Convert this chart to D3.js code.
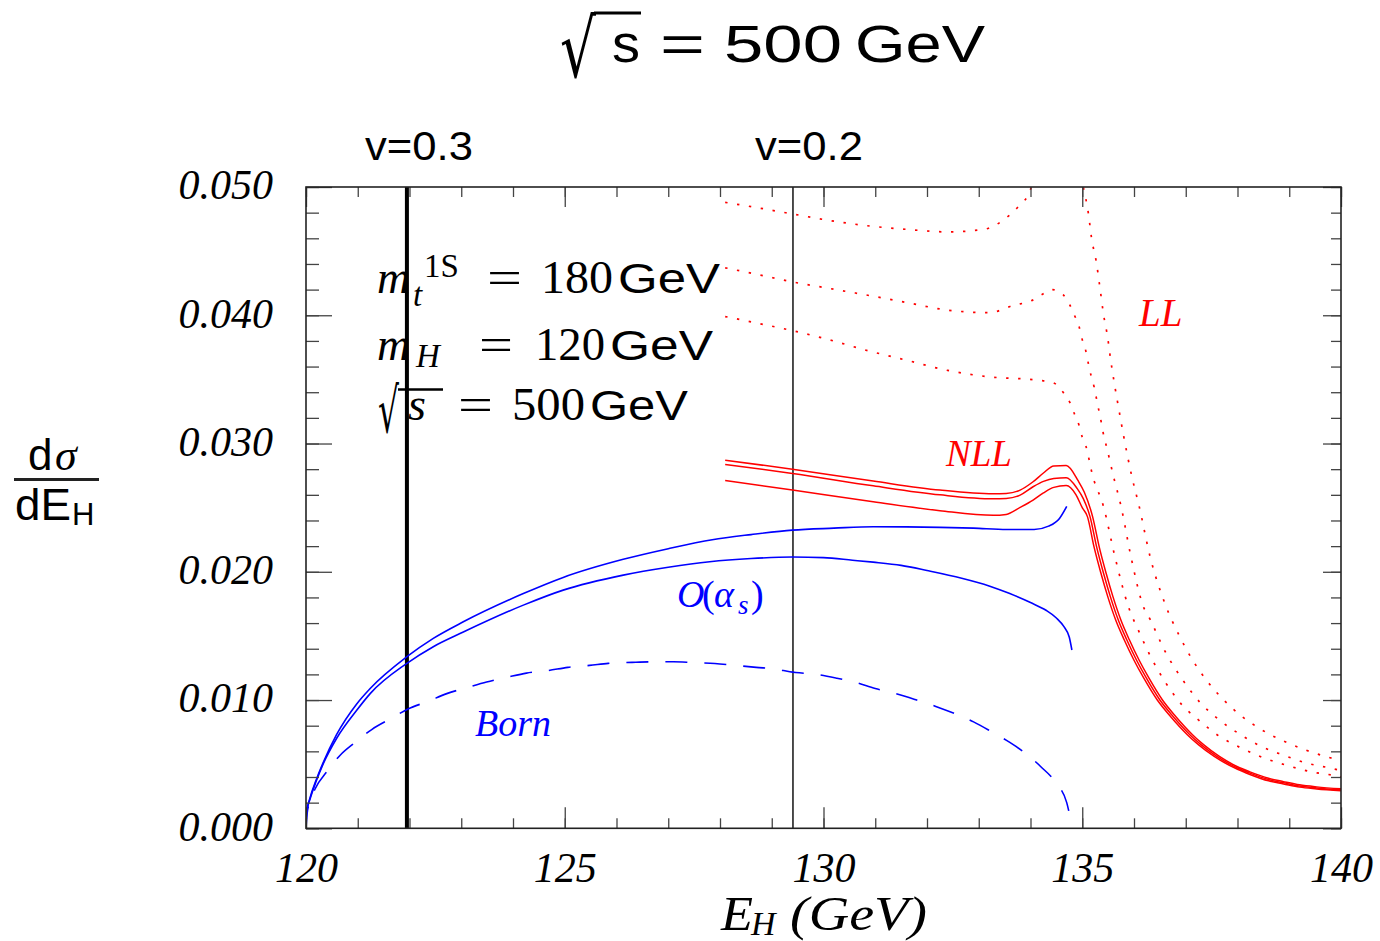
<!DOCTYPE html>
<html><head><meta charset="utf-8">
<script src="https://cdn.jsdelivr.net/npm/d3@7"></script>
<style>body{margin:0;background:#fff}svg{display:block}</style>
</head><body>
<svg id="c" width="1380" height="941"></svg>
<script>
// ---------------- data ----------------
const xTickLabels = [120, 125, 130, 135, 140];
const yTickLabels = [0.000, 0.010, 0.020, 0.030, 0.040, 0.050];

const vLineLabels = ["v=0.3", "v=0.2"];
const vLineE = [121.95, 129.41];

const bornE = [120.00,120.03,120.18,120.40,120.66,120.95,121.27,121.66,121.97,122.36,122.72,123.14,123.49,123.91,124.26,124.68,125.06,125.48,125.84,126.30,126.68,127.10,127.48,127.90,128.30,128.70,129.10,129.35,129.86,130.26,130.60,131.00,131.40,131.80,132.17,132.56,132.90,133.26,133.60,133.95,134.20,134.50,134.70,134.80];
const born  = [0.0000,0.0014,0.0031,0.0044,0.0057,0.0067,0.0077,0.0086,0.0093,0.0099,0.0105,0.0110,0.0114,0.0118,0.0121,0.0123,0.01255,0.0127,0.01286,0.01294,0.01298,0.01298,0.01292,0.01285,0.0127,0.01255,0.0124,0.0122,0.0120,0.0117,0.0114,0.0109,0.0105,0.0100,0.0095,0.0089,0.0083,0.0075,0.0067,0.0057,0.0048,0.0035,0.0020,0.0002];

const oasUpE = [120.00,120.01,120.08,120.20,120.33,120.59,120.98,121.24,121.95,122.46,123.04,124.20,124.97,126.13,127.00,127.85,128.60,129.40,130.20,130.96,131.60,132.25,132.90,133.54,134.07,134.35,134.56,134.70];
const oasUp  = [0,0.0012,0.0024,0.0038,0.0051,0.0073,0.0097,0.0109,0.01338,0.01481,0.0161,0.0183,0.01956,0.02097,0.0218,0.0225,0.0229,0.02325,0.0234,0.02351,0.0235,0.02346,0.0234,0.0233,0.0233,0.02356,0.02416,0.0251];

const oasLoE = [120.00,120.01,120.08,120.20,120.33,120.59,120.98,121.24,121.95,122.46,123.04,124.20,124.97,126.13,127.00,127.80,128.60,129.40,130.00,130.56,130.96,131.50,132.00,132.67,133.20,133.60,134.00,134.30,134.50,134.65,134.75,134.80];
const oasLo  = [0,0.0012,0.0023,0.0037,0.0050,0.0070,0.0092,0.0105,0.01286,0.01416,0.0153,0.0174,0.01857,0.01974,0.02035,0.02078,0.02103,0.02115,0.0211,0.0209,0.02075,0.0205,0.0201,0.0195,0.0189,0.0183,0.0176,0.0170,0.0164,0.0157,0.0149,0.0139];

const nllTopE = [128.10,129.40,130.96,132.25,133.28,133.53,133.80,134.05,134.25,134.45,134.69,134.92,135.04,135.20,135.33,135.46,135.59,135.75,135.91,136.10,136.29,136.55,136.81,137.13,137.35,137.65,138.00,138.24,138.60,138.89,139.20,139.53,140.00];
const nllTop  = [0.02870,0.02800,0.02707,0.02637,0.02608,0.02611,0.02637,0.02702,0.02770,0.02825,0.02828,0.02710,0.02620,0.02430,0.02190,0.01990,0.01810,0.01620,0.01470,0.01310,0.01170,0.01000,0.00870,0.00730,0.00650,0.00560,0.00480,0.00440,0.00390,0.00364,0.00339,0.00323,0.00308];

const nllMidE = [128.10,129.40,130.96,132.25,133.28,133.53,133.80,134.05,134.25,134.45,134.69,134.90,135.02,135.15,135.28,135.41,135.54,135.70,135.86,136.05,136.24,136.50,136.76,137.08,137.30,137.60,138.00,138.24,138.60,138.89,139.20,139.53,140.00];
const nllMid  = [0.02837,0.02767,0.02670,0.02600,0.02569,0.02572,0.02598,0.02663,0.02705,0.02728,0.02733,0.02650,0.02570,0.02430,0.02190,0.01990,0.01810,0.01620,0.01470,0.01310,0.01170,0.01000,0.00870,0.00730,0.00650,0.00560,0.00470,0.00430,0.00380,0.00355,0.00330,0.00315,0.00300];

const nllBotE = [128.10,129.40,130.96,132.25,133.28,133.53,133.80,134.05,134.25,134.45,134.69,134.88,135.00,135.10,135.23,135.36,135.49,135.65,135.81,136.00,136.19,136.45,136.71,137.03,137.25,137.55,138.00,138.24,138.60,138.89,139.20,139.53,140.00];
const nllBot  = [0.02712,0.02637,0.02546,0.02476,0.02440,0.02447,0.02502,0.02559,0.02615,0.02658,0.02672,0.02600,0.02500,0.02430,0.02190,0.01990,0.01810,0.01620,0.01470,0.01310,0.01170,0.01000,0.00870,0.00730,0.00650,0.00560,0.00460,0.00420,0.00370,0.00346,0.00321,0.00307,0.00292];

const llTopE = [128.10,128.70,129.40,130.10,130.80,131.60,132.40,133.10,133.50,133.77,133.99,134.20,134.50,134.80,135.02,135.12,135.18,135.27,135.34,135.41,135.49,135.55,135.62,135.71,135.79,135.96,136.10,136.31,136.60,136.89,137.12,137.39,137.71,138.06,138.46,138.89,139.32,139.79,140.00];
const llTop  = [0.0488,0.0484,0.0479,0.0474,0.0470,0.0467,0.0465,0.0467,0.0475,0.0485,0.0497,0.0530,0.0560,0.0535,0.0500,0.0479,0.0460,0.0442,0.0422,0.0401,0.0383,0.0365,0.0347,0.0326,0.0308,0.0274,0.0251,0.0212,0.0175,0.0149,0.0132,0.0116,0.0101,0.0088,0.0077,0.0068,0.0061,0.0055,0.0053];

const llMidE = [128.10,128.70,129.40,130.10,130.80,131.60,132.40,133.20,133.69,134.00,134.21,134.42,134.63,134.76,134.86,134.94,135.00,135.07,135.12,135.17,135.23,135.28,135.33,135.38,135.42,135.46,135.60,135.75,135.94,136.18,136.31,136.60,136.97,137.28,137.63,138.02,138.45,138.89,139.32,139.79,140.00];
const llMid  = [0.0437,0.0432,0.0426,0.0421,0.0416,0.0410,0.0404,0.0402,0.0408,0.0411,0.0416,0.0420,0.0416,0.0408,0.0399,0.0391,0.0381,0.0372,0.0362,0.0353,0.0344,0.0334,0.0324,0.0314,0.0305,0.0299,0.0275,0.0251,0.0212,0.0173,0.0163,0.0138,0.0114,0.0098,0.0085,0.0074,0.0064,0.0057,0.0051,0.0047,0.0045];

const llBotE = [128.10,128.70,129.40,130.10,130.80,131.60,132.40,133.20,133.99,134.23,134.46,134.63,134.76,134.85,134.94,135.00,135.07,135.20,135.41,135.63,135.89,136.10,136.32,136.62,136.91,137.26,137.64,138.05,138.50,138.96,139.43,139.89,140.00];
const llBot  = [0.0399,0.0394,0.0388,0.0381,0.0373,0.0365,0.0357,0.0352,0.0350,0.0349,0.0347,0.0340,0.0332,0.0323,0.0314,0.0305,0.0298,0.0275,0.0251,0.0212,0.0173,0.0153,0.0134,0.0113,0.0097,0.0084,0.0072,0.0063,0.0055,0.0049,0.0044,0.0041,0.0040];

// ---------------- drawing ----------------
const svg = d3.select("#c");
const X0 = 306, X1 = 1341, Y0 = 828.3, Y1 = 187;
const x = d3.scaleLinear().domain([120, 140]).range([X0, X1]);
const y = d3.scaleLinear().domain([0, 0.05]).range([Y0, Y1]);
const RED = "#ff0000", BLUE = "#0000ff";
const SERIF = "'Liberation Serif','Times New Roman',serif";
const SANS = "'Liberation Sans',Arial,Helvetica,sans-serif";

svg.append("defs").append("clipPath").attr("id", "clip")
  .append("rect").attr("x", X0).attr("y", Y1).attr("width", X1 - X0).attr("height", Y0 - Y1);

const zip = (a, b) => a.map((e, i) => [e, b[i]]);
const smooth = d3.line().x(d => x(d[0])).y(d => y(d[1])).curve(d3.curveMonotoneX);

const plot = svg.append("g").attr("clip-path", "url(#clip)");

// vertical velocity lines
plot.selectAll("line.vl").data(vLineE).join("line")
  .attr("x1", d => x(d)).attr("x2", d => x(d))
  .attr("y1", y(0.05)).attr("y2", y(0))
  .attr("stroke", "#000").attr("stroke-width", (d, i) => i === 0 ? 4 : 1.4);

// LL dotted
[[llTopE, llTop], [llMidE, llMid], [llBotE, llBot]].forEach(([e, v]) => {
  plot.append("path").attr("d", smooth(zip(e, v))).attr("fill", "none")
    .attr("stroke", RED).attr("stroke-width", 1.7).attr("stroke-dasharray", "2.4,9.6");
});
// NLL solid
[[nllTopE, nllTop], [nllMidE, nllMid], [nllBotE, nllBot]].forEach(([e, v]) => {
  plot.append("path").attr("d", smooth(zip(e, v))).attr("fill", "none")
    .attr("stroke", RED).attr("stroke-width", 1.5);
});
// O(alpha_s)
[[oasUpE, oasUp], [oasLoE, oasLo]].forEach(([e, v]) => {
  plot.append("path").attr("d", smooth(zip(e, v))).attr("fill", "none")
    .attr("stroke", BLUE).attr("stroke-width", 1.6);
});
// Born dashed
plot.append("path").attr("d", smooth(zip(bornE, born))).attr("fill", "none")
  .attr("stroke", BLUE).attr("stroke-width", 1.6).attr("stroke-dasharray", "22,17");

// ---------------- axes ----------------
const xMinor = d3.range(120, 140.01, 1);
const yMinor = d3.range(0, 0.0501, 0.002);
const tickCol = "#444";
function styleAxis(g) {
  g.select(".domain").remove();
  g.selectAll(".tick line").attr("stroke", tickCol).attr("stroke-width", 1.3);
}
svg.append("g").attr("transform", `translate(0,${Y0})`)
  .call(d3.axisBottom(x).tickValues(xMinor).tickSize(-10).tickFormat(""))
  .call(styleAxis);
svg.append("g").attr("transform", `translate(0,${Y0})`)
  .call(d3.axisBottom(x).tickValues(xTickLabels).tickSize(-21).tickPadding(24).tickFormat(d3.format("d")))
  .call(styleAxis)
  .call(g => g.selectAll("text").attr("font-family", SERIF).attr("font-style", "italic")
    .attr("font-size", 42).attr("fill", "#000"));
svg.append("g").attr("transform", `translate(0,${Y1})`)
  .call(d3.axisTop(x).tickValues(xMinor).tickSize(-10).tickFormat(""))
  .call(styleAxis);
svg.append("g").attr("transform", `translate(0,${Y1})`)
  .call(d3.axisTop(x).tickValues(xTickLabels).tickSize(-20).tickFormat(""))
  .call(styleAxis);
svg.append("g").attr("transform", `translate(${X0},0)`)
  .call(d3.axisLeft(y).tickValues(yMinor).tickSize(-13).tickFormat(""))
  .call(styleAxis);
svg.append("g").attr("transform", `translate(${X0},0)`)
  .call(d3.axisLeft(y).tickValues(yTickLabels).tickSize(-26).tickPadding(33).tickFormat(d3.format(".3f")))
  .call(styleAxis)
  .call(g => g.selectAll("text").attr("font-family", SERIF).attr("font-style", "italic")
    .attr("font-size", 42).attr("fill", "#000").attr("dy", "0.28em"));
svg.append("g").attr("transform", `translate(${X1},0)`)
  .call(d3.axisRight(y).tickValues(yMinor).tickSize(-10).tickFormat(""))
  .call(styleAxis);
svg.append("g").attr("transform", `translate(${X1},0)`)
  .call(d3.axisRight(y).tickValues(yTickLabels).tickSize(-18).tickFormat(""))
  .call(styleAxis);

// frame
svg.append("rect").attr("x", X0).attr("y", Y1).attr("width", X1 - X0).attr("height", Y0 - Y1)
  .attr("fill", "none").attr("stroke", "#222").attr("stroke-width", 1.6);

// ---------------- texts ----------------
function t(str, xx, yy, o = {}) {
  const el = svg.append("text").attr("x", xx).attr("y", yy).text(str)
    .attr("font-family", o.family || SERIF).attr("font-size", o.size || 40)
    .attr("fill", o.fill || "#000");
  if (o.italic) el.attr("font-style", "italic");
  if (o.anchor) el.attr("text-anchor", o.anchor);
  if (o.len) el.attr("textLength", o.len).attr("lengthAdjust", "spacingAndGlyphs");
  return el;
}

// Title
t("\u221A", 560, 77, { family: "'DejaVu Sans',sans-serif", size: 80, len: 36 });
svg.append("line").attr("x1", 594).attr("x2", 641).attr("y1", 13).attr("y2", 13)
  .attr("stroke", "#000").attr("stroke-width", 3);
t("s", 612, 62, { family: SANS, size: 51, len: 28 });
t("=", 660, 62, { family: SANS, size: 51, len: 45 });
t("500", 724, 62, { family: SANS, size: 51, len: 118 });
t("GeV", 855, 62, { family: SANS, size: 51, len: 130 });

// velocity labels
vLineLabels.forEach((lab, i) => {
  t(lab, x(vLineE[i]) + (i === 0 ? 12 : 16), 160, { family: SANS, size: 40, anchor: "middle", len: 108 });
});

// Parameter block
t("m", 377, 293, { size: 46, italic: true, len: 33 });
t("t", 413, 306, { size: 33, italic: true });
t("1S", 424, 277, { size: 33 });
t("=", 487, 293, { size: 46, len: 35 });
t("180", 541, 293, { size: 46, len: 72 });
t("GeV", 618, 293, { family: SANS, size: 43, len: 102 });

t("m", 377, 360, { size: 46, italic: true, len: 33 });
t("H", 416, 367, { size: 33, italic: true });
t("=", 479, 360, { size: 46, len: 34 });
t("120", 535, 360, { size: 46, len: 70 });
t("GeV", 610, 360, { family: SANS, size: 43, len: 103 });

t("\u221A", 378, 432, { family: "'DejaVu Serif',serif", size: 62, len: 21 });
svg.append("line").attr("x1", 398).attr("x2", 443).attr("y1", 389.5).attr("y2", 389.5)
  .attr("stroke", "#000").attr("stroke-width", 2.5);
t("s", 408, 420, { size: 46, italic: true });
t("=", 458, 420, { size: 46, len: 35 });
t("500", 512, 420, { size: 46, len: 73 });
t("GeV", 590, 420, { family: SANS, size: 43, len: 98 });

// curve labels
t("LL", 1139, 326, { size: 39, italic: true, fill: RED });
t("NLL", 946, 466, { size: 37, italic: true, fill: RED });
t("Born", 475, 736, { size: 38, italic: true, fill: BLUE });
t("O", 677, 607, { size: 38, italic: true, fill: BLUE });
t("(", 702, 607, { size: 38, fill: BLUE });
t("\u03B1", 714, 607, { size: 38, italic: true, fill: BLUE });
t("s", 738, 614, { size: 27, italic: true, fill: BLUE });
t(")", 751, 607, { size: 38, fill: BLUE });

// Axis titles
t("E", 721, 930, { size: 48, italic: true, len: 32 });
t("H", 751, 935, { size: 34, italic: true });
t("(GeV)", 790, 930, { size: 48, italic: true, len: 137 });

t("d", 28, 470, { family: SANS, size: 44 });
t("\u03C3", 55, 470, { size: 44, italic: true });
svg.append("line").attr("x1", 14).attr("x2", 99).attr("y1", 479.5).attr("y2", 479.5)
  .attr("stroke", "#222").attr("stroke-width", 3);
t("dE", 15, 520, { family: SANS, size: 44, len: 56 });
t("H", 72, 525, { family: SANS, size: 31 });
</script>
</body></html>
